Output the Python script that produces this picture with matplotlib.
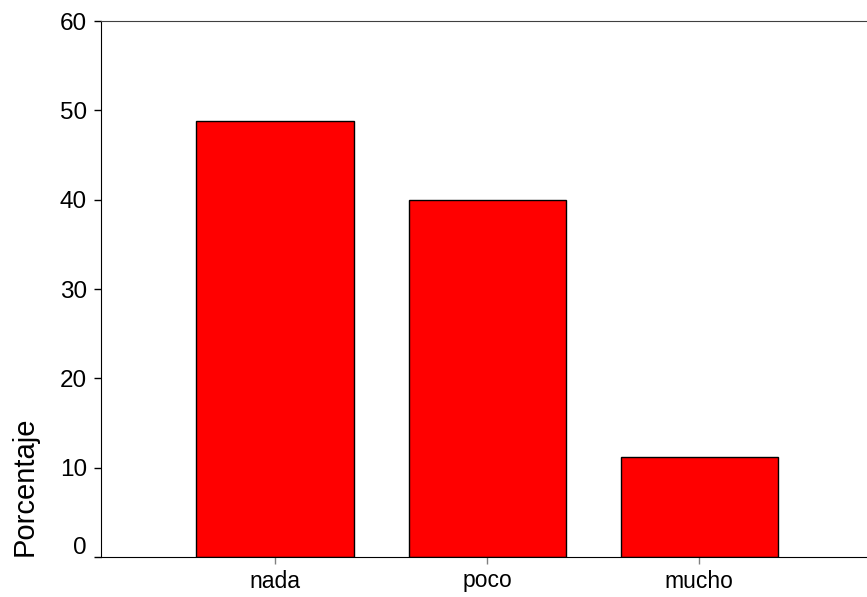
import matplotlib
matplotlib.use("Agg")
import matplotlib.pyplot as plt
import matplotlib.transforms as mtransforms

categories = ["nada", "poco", "mucho"]
values = [48.8, 40.0, 11.2]
yticks = [0, 10, 20, 30, 40, 50, 60]

plt.rcParams['font.family'] = ['Liberation Sans', 'DejaVu Sans']

W, H = 867, 597
fig = plt.figure(figsize=(W/100, H/100), dpi=100)
ax = fig.add_axes([101/W, 1-557/H, (867-101)/W, (557-21)/H])

x = list(range(len(categories)))
ax.bar(x, values, width=0.74, color='#ff0000', edgecolor='black', linewidth=1)
ax.set_xlim(-0.82, 2.79)
ax.set_ylim(0, 60)
ax.set_yticks(yticks)
ax.set_yticklabels([str(t) for t in yticks], fontsize=17.5)
ax.set_xticks(x)
ax.set_xticklabels(categories, fontsize=16.5)
ax.tick_params(axis='y', length=5, width=1, pad=5, color='black')
ax.tick_params(axis='x', length=5, width=1, pad=4, color='#808080')

ax.spines['right'].set_visible(False)
ax.spines['top'].set_color('#404040')
ax.spines['left'].set_color('black')
ax.spines['bottom'].set_color('black')

# shift the "0" label up slightly as in the reference
lbl0 = ax.get_yticklabels()[0]
lbl0.set_transform(lbl0.get_transform() + mtransforms.ScaledTranslation(0, 12/100, fig.dpi_scale_trans))

fig.text(25/W, 1-486/H, "Porcentaje", rotation=90, ha='center', va='center', fontsize=21)

fig.savefig("out.png", dpi=100)
